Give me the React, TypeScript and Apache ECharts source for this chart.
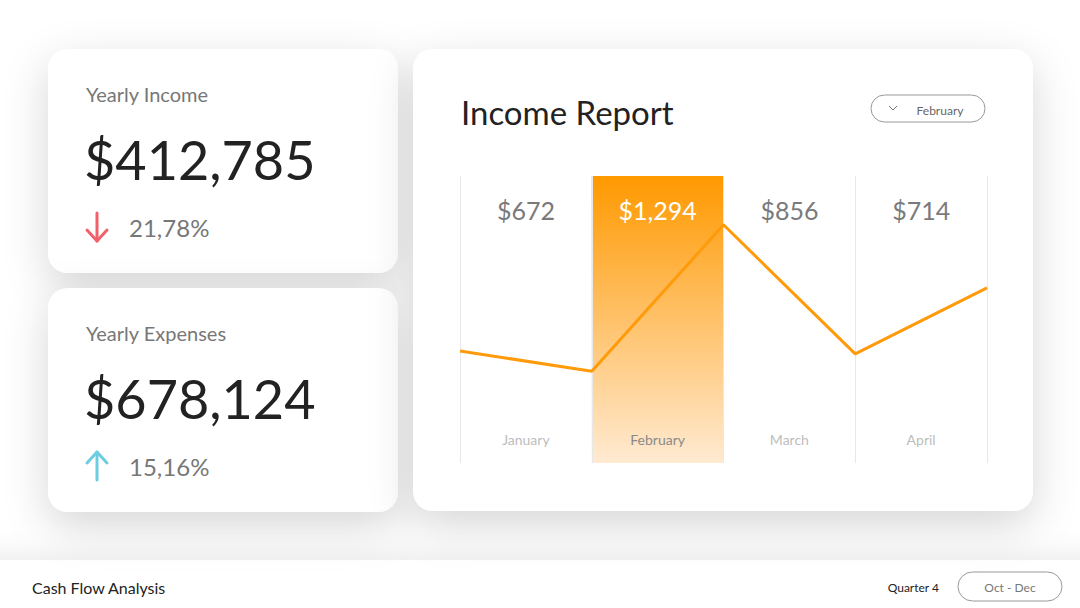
import React, { useEffect, useRef } from "react";
import * as echarts from "echarts";

const months = ["January", "February", "March", "April"];
const monthValues = [672, 1294, 856, 714];
const lineValues = [39, 32, 83, 38, 61];
const selectedMonth = "February";

const kpiTitles = ["Yearly Income", "Yearly Expenses"];
const kpiValues = ["$412,785", "$678,124"];
const kpiChanges = ["21,78%", "15,16%"];
const kpiDirections = ["down", "up"];

const FONT = "Lato, 'Open Sans', sans-serif";

function fmtMoney(v: number) {
  return "$" + v.toLocaleString("en-US");
}

export default function App() {
  const ref = useRef<HTMLDivElement>(null);

  useEffect(() => {
    if (!ref.current) return;
    const chart = echarts.init(ref.current, null, { renderer: "svg" });

    const cardShadow = {
      shadowBlur: 44,
      shadowOffsetY: 14,
      shadowColor: "rgba(0,0,0,0.16)",
    };

    const graphics: any[] = [];
    // footer strip
    graphics.push({
      type: "rect",
      z: 0,
      shape: { x: -20, y: 560, width: 1120, height: 80 },
      style: { fill: "#fff", shadowBlur: 24, shadowOffsetY: -6, shadowColor: "rgba(0,0,0,0.08)" },
    });
    // kpi cards
    kpiTitles.forEach((t, i) => {
      const top = i === 0 ? 49 : 288;
      graphics.push({
        type: "rect",
        z: 1,
        shape: { x: 48, y: top, width: 350, height: 224, r: 20 },
        style: { fill: "#fff", ...cardShadow },
      });
      graphics.push({
        type: "text",
        z: 10,
        style: { text: t, x: 86, y: top + 45, fill: "#777", font: `20px ${FONT}`, textVerticalAlign: "middle" },
      });
      graphics.push({
        type: "text",
        z: 10,
        style: { text: kpiValues[i], x: 84, y: top + 110, fill: "#222", font: `54px ${FONT}`, textVerticalAlign: "middle" },
      });
      graphics.push({
        type: "text",
        z: 10,
        style: { text: kpiChanges[i], x: 129, y: top + 178, fill: "#777", font: `24px ${FONT}`, textVerticalAlign: "middle" },
      });
      const down = kpiDirections[i] === "down";
      const col = down ? "#F2606B" : "#6CCDE0";
      const y0 = top + 164;
      const y1 = top + 192;
      const tipY = down ? y1 : y0;
      const d = down ? -11 : 11;
      graphics.push({
        type: "line",
        z: 10,
        shape: { x1: 97, y1: y0, x2: 97, y2: y1 },
        style: { stroke: col, lineWidth: 3, lineCap: "round" },
      });
      graphics.push({
        type: "polyline",
        z: 10,
        shape: { points: [[87, tipY + d], [97, tipY], [107, tipY + d]] },
        style: { stroke: col, lineWidth: 3, lineCap: "round", lineJoin: "round", fill: "none" },
      });
    });
    // chart card
    graphics.push({
      type: "rect",
      z: 1,
      shape: { x: 413, y: 49, width: 620, height: 462, r: 20 },
      style: { fill: "#fff", ...cardShadow },
    });
    graphics.push({
      type: "text",
      z: 10,
      style: { text: "Income Report", x: 461, y: 112, fill: "#222", font: `33px ${FONT}`, textVerticalAlign: "middle" },
    });
    // dropdown
    graphics.push({
      type: "rect",
      z: 10,
      shape: { x: 871, y: 95, width: 114, height: 27, r: 13.5 },
      style: { fill: "#fff", stroke: "#999", lineWidth: 1 },
    });
    graphics.push({
      type: "polyline",
      z: 11,
      shape: { points: [[889, 106], [893, 110], [897, 106]] },
      style: { stroke: "#777", lineWidth: 1, fill: "none" },
    });
    graphics.push({
      type: "text",
      z: 11,
      style: { text: selectedMonth, x: 940, y: 110, fill: "#666", font: `12px ${FONT}`, textAlign: "center", textVerticalAlign: "middle" },
    });
    // footer
    graphics.push({
      type: "text",
      z: 10,
      style: { text: "Cash Flow Analysis", x: 32, y: 587, fill: "#222", font: `16px ${FONT}`, textVerticalAlign: "middle" },
    });
    graphics.push({
      type: "text",
      z: 10,
      style: { text: "Quarter 4", x: 939, y: 587, fill: "#222", font: `12px ${FONT}`, textAlign: "right", textVerticalAlign: "middle" },
    });
    graphics.push({
      type: "rect",
      z: 10,
      shape: { x: 958, y: 572, width: 104, height: 29, r: 14.5 },
      style: { fill: "#fff", stroke: "#999", lineWidth: 1 },
    });
    graphics.push({
      type: "text",
      z: 11,
      style: { text: "Oct - Dec", x: 1010, y: 587, fill: "#777", font: `12px ${FONT}`, textAlign: "center", textVerticalAlign: "middle" },
    });

    const option: any = {
      animation: false,
      backgroundColor: "#fff",
      graphic: { elements: graphics },
      grid: { left: 460, right: 93, top: 176, bottom: 145, containLabel: false },
      xAxis: [
        {
          type: "category",
          data: months,
          position: "bottom",
          boundaryGap: true,
          z: 5,
          axisLine: { show: false },
          axisTick: { show: false },
          splitLine: { show: true, lineStyle: { color: "#e8e8e8", width: 1 } },
          axisLabel: {
            inside: true,
            margin: 16,
            formatter: (v: string) => (v === selectedMonth ? `{sel|${v}}` : `{norm|${v}}`),
            rich: {
              sel: { color: "#8a8a8a", fontSize: 14, fontFamily: FONT, lineHeight: 16 },
              norm: { color: "#bdbdbd", fontSize: 14, fontFamily: FONT, lineHeight: 16 },
            },
          },
        },
        {
          type: "category",
          data: months,
          position: "top",
          boundaryGap: true,
          z: 5,
          axisLine: { show: false },
          axisTick: { show: false },
          splitLine: { show: false },
          axisLabel: {
            inside: true,
            margin: 21,
            formatter: (v: string, idx: number) =>
              v === selectedMonth ? `{sel|${fmtMoney(monthValues[idx])}}` : `{norm|${fmtMoney(monthValues[idx])}}`,
            rich: {
              sel: { color: "#ffffff", fontSize: 25, fontFamily: FONT, lineHeight: 26 },
              norm: { color: "#7a7a7a", fontSize: 25, fontFamily: FONT, lineHeight: 26 },
            },
          },
        },
        { type: "value", min: 0, max: lineValues.length - 1, show: false },
      ],
      yAxis: { type: "value", min: 0, max: 100, show: false },
      series: [
        {
          type: "bar",
          xAxisIndex: 0,
          data: months.map((m) => (m === selectedMonth ? 100 : "-")),
          barWidth: "100%",
          z: 2,
          itemStyle: {
            color: new echarts.graphic.LinearGradient(0, 0, 0, 1, [
              { offset: 0, color: "#FF9900" },
              { offset: 1, color: "#FFEAD2" },
            ]),
          },
        },
        {
          type: "line",
          xAxisIndex: 2,
          data: lineValues.map((v, i) => [i, v]),
          symbol: "none",
          z: 6,
          lineStyle: { color: "#FF9A0A", width: 3 },
        },
      ],
    };
    chart.setOption(option);
    return () => chart.dispose();
  }, []);

  return (
    <div
      ref={ref}
      style={{ position: "fixed", left: 0, top: 0, width: 1080, height: 608 }}
    />
  );
}
